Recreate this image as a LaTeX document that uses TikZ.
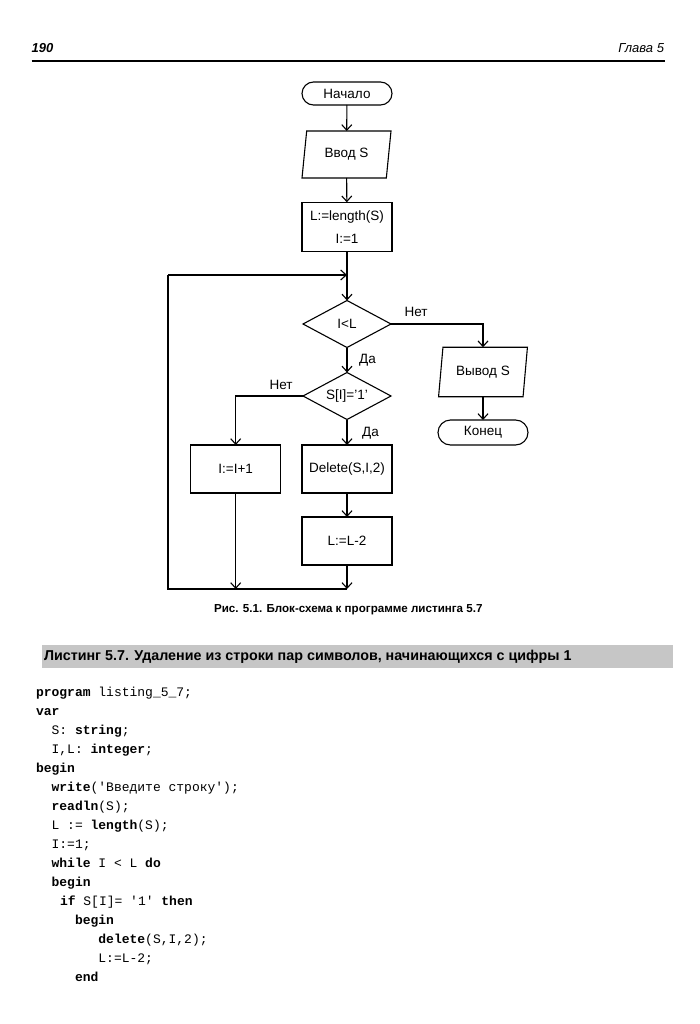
\documentclass[tikz,border=0pt]{standalone}
\usepackage{fontspec}
\setmainfont{Liberation Sans}
\setmonofont{Liberation Mono}
\usetikzlibrary{shapes.geometric,arrows.meta}
\newcommand\kw[1]{\textbf{#1}}
\begin{document}
\begin{tikzpicture}[x=1pt,y=-1pt,
  every node/.style={inner sep=0pt,outer sep=0pt},
  ln/.style={line width=1.1pt},
  arr/.style={ln,-{Straight Barb[length=5.5pt,width=10pt,line width=1.1pt]}},
  fc/.style={font=\fontsize{13.5}{16}\selectfont},
  term/.style={fc,draw,ln,rounded corners=11.5pt,minimum width=90pt,minimum height=23pt},
  io/.style={fc,draw,ln,trapezium,trapezium left angle=78,trapezium right angle=102,trapezium stretches=true,minimum width=89pt,minimum height=47pt},
  procbox/.style={fc,draw,ln,minimum width=90pt,minimum height=48pt},
  dia/.style={fc,draw,ln,diamond,aspect=1.9,minimum width=88pt,minimum height=47pt},
  lbl/.style={fc},
  code/.style={anchor=base west,font=\ttfamily\fontsize{13}{15}\selectfont},
  hdr/.style={font=\fontsize{13}{15}\selectfont\itshape}
]
\fill[white] (0,0) rectangle (700,1024);
\useasboundingbox (0,0) rectangle (700,1024);

% header
\node[hdr,font=\fontsize{13}{15}\selectfont\bfseries\itshape,anchor=base west] (pg) at (31.7,53) {190};
\node[hdr,anchor=base east] (ch) at (664,53) {Глава 5};
\draw[line width=1.1pt] (31.7,61) -- (665,61);

% flowchart
\node[term] (start) at (347,93.5) {Начало};
\node[io] (in) at (346.5,154.5) {Ввод S};
\node[procbox,minimum height=49.5pt,align=center,font=\fontsize{13.5}{23}\selectfont] (init) at (347,227) {L:=length(S)\\I:=1};
\coordinate (join) at (347,275);
\node[dia] (c1) at (347,324) {I<L};
\node[io,minimum height=49.5pt,trapezium left angle=76.4,trapezium right angle=103.6] (out) at (483,372) {Вывод S};
\node[term,minimum height=25pt,rounded corners=12.5pt] (fin) at (483,432.5) {Конец};
\node[dia] (c2) at (347,396) {S[I]='1'};
\node[procbox] (inc) at (235.7,469) {I:=I+1};
\node[procbox] (del) at (347,469) {Delete(S,I,2)};
\node[procbox] (dec) at (347,541) {L:=L-2};
\coordinate (br) at (347,589);
\coordinate (bl) at (168,589);
\coordinate (tl) at (168,275);

\draw[arr] (start) -- (in);
\draw[arr] (in) -- (init);
\draw[arr] (init) -- (c1);
\draw[arr] (c1.east) -| (out.north);
\draw[arr] (out) -- (fin);
\draw[arr] (c1) -- (c2);
\draw[arr] (c2.west) -| (inc.north);
\draw[arr] (c2) -- (del);
\draw[arr] (del) -- (dec);
\draw[arr] (dec) -- (br);
\draw[arr] (inc.south) -- (inc.south |- br);
\draw[ln] (br) -- (bl) -- (tl);
\draw[arr] (tl) -- (join);

\node[lbl] (l1) at (416,311.7) {Нет};
\node[lbl] (l2) at (367.5,360) {Да};
\node[lbl] (l3) at (281,385) {Нет};
\node[lbl] (l4) at (370.5,433) {Да};

% caption
\node[font=\fontsize{11.6}{13}\selectfont\bfseries] (cap) at (348.3,610) {Рис. 5.1. Блок-схема к программе листинга 5.7};

% listing heading
\fill[gray!45] (41.7,645) rectangle (673,668);
\node[anchor=west,font=\fontsize{14.3}{16}\selectfont\bfseries] (lh) at (44,657) {Листинг 5.7. Удаление из строки пар символов, начинающихся с цифры 1};

% code
\node[code] (k0) at (36,696.5) {\kw{program} listing\_5\_7;};
\node[code] (k1) at (36,715.5) {\kw{var}};
\node[code] (k2) at (51.6,734.5) {S: \kw{string};};
\node[code] (k3) at (51.6,753.5) {I,L: \kw{integer};};
\node[code] (k4) at (36,772.5) {\kw{begin}};
\node[code] (k5) at (51.6,791.5) {\kw{write}('Введите строку');};
\node[code] (k6) at (51.6,810.5) {\kw{readln}(S);};
\node[code] (k7) at (51.6,829.5) {L := \kw{length}(S);};
\node[code] (k8) at (51.6,848.5) {I:=1;};
\node[code] (k9) at (51.6,867.5) {\kw{while} I < L \kw{do}};
\node[code] (k10) at (51.6,886.5) {\kw{begin}};
\node[code] (k11) at (60,905.5) {\kw{if} S[I]= '1' \kw{then}};
\node[code] (k12) at (75,924.5) {\kw{begin}};
\node[code] (k13) at (98.4,943.5) {\kw{delete}(S,I,2);};
\node[code] (k14) at (98.4,962.5) {L:=L-2;};
\node[code] (k15) at (75,981.5) {\kw{end}};
\end{tikzpicture}
\end{document}
